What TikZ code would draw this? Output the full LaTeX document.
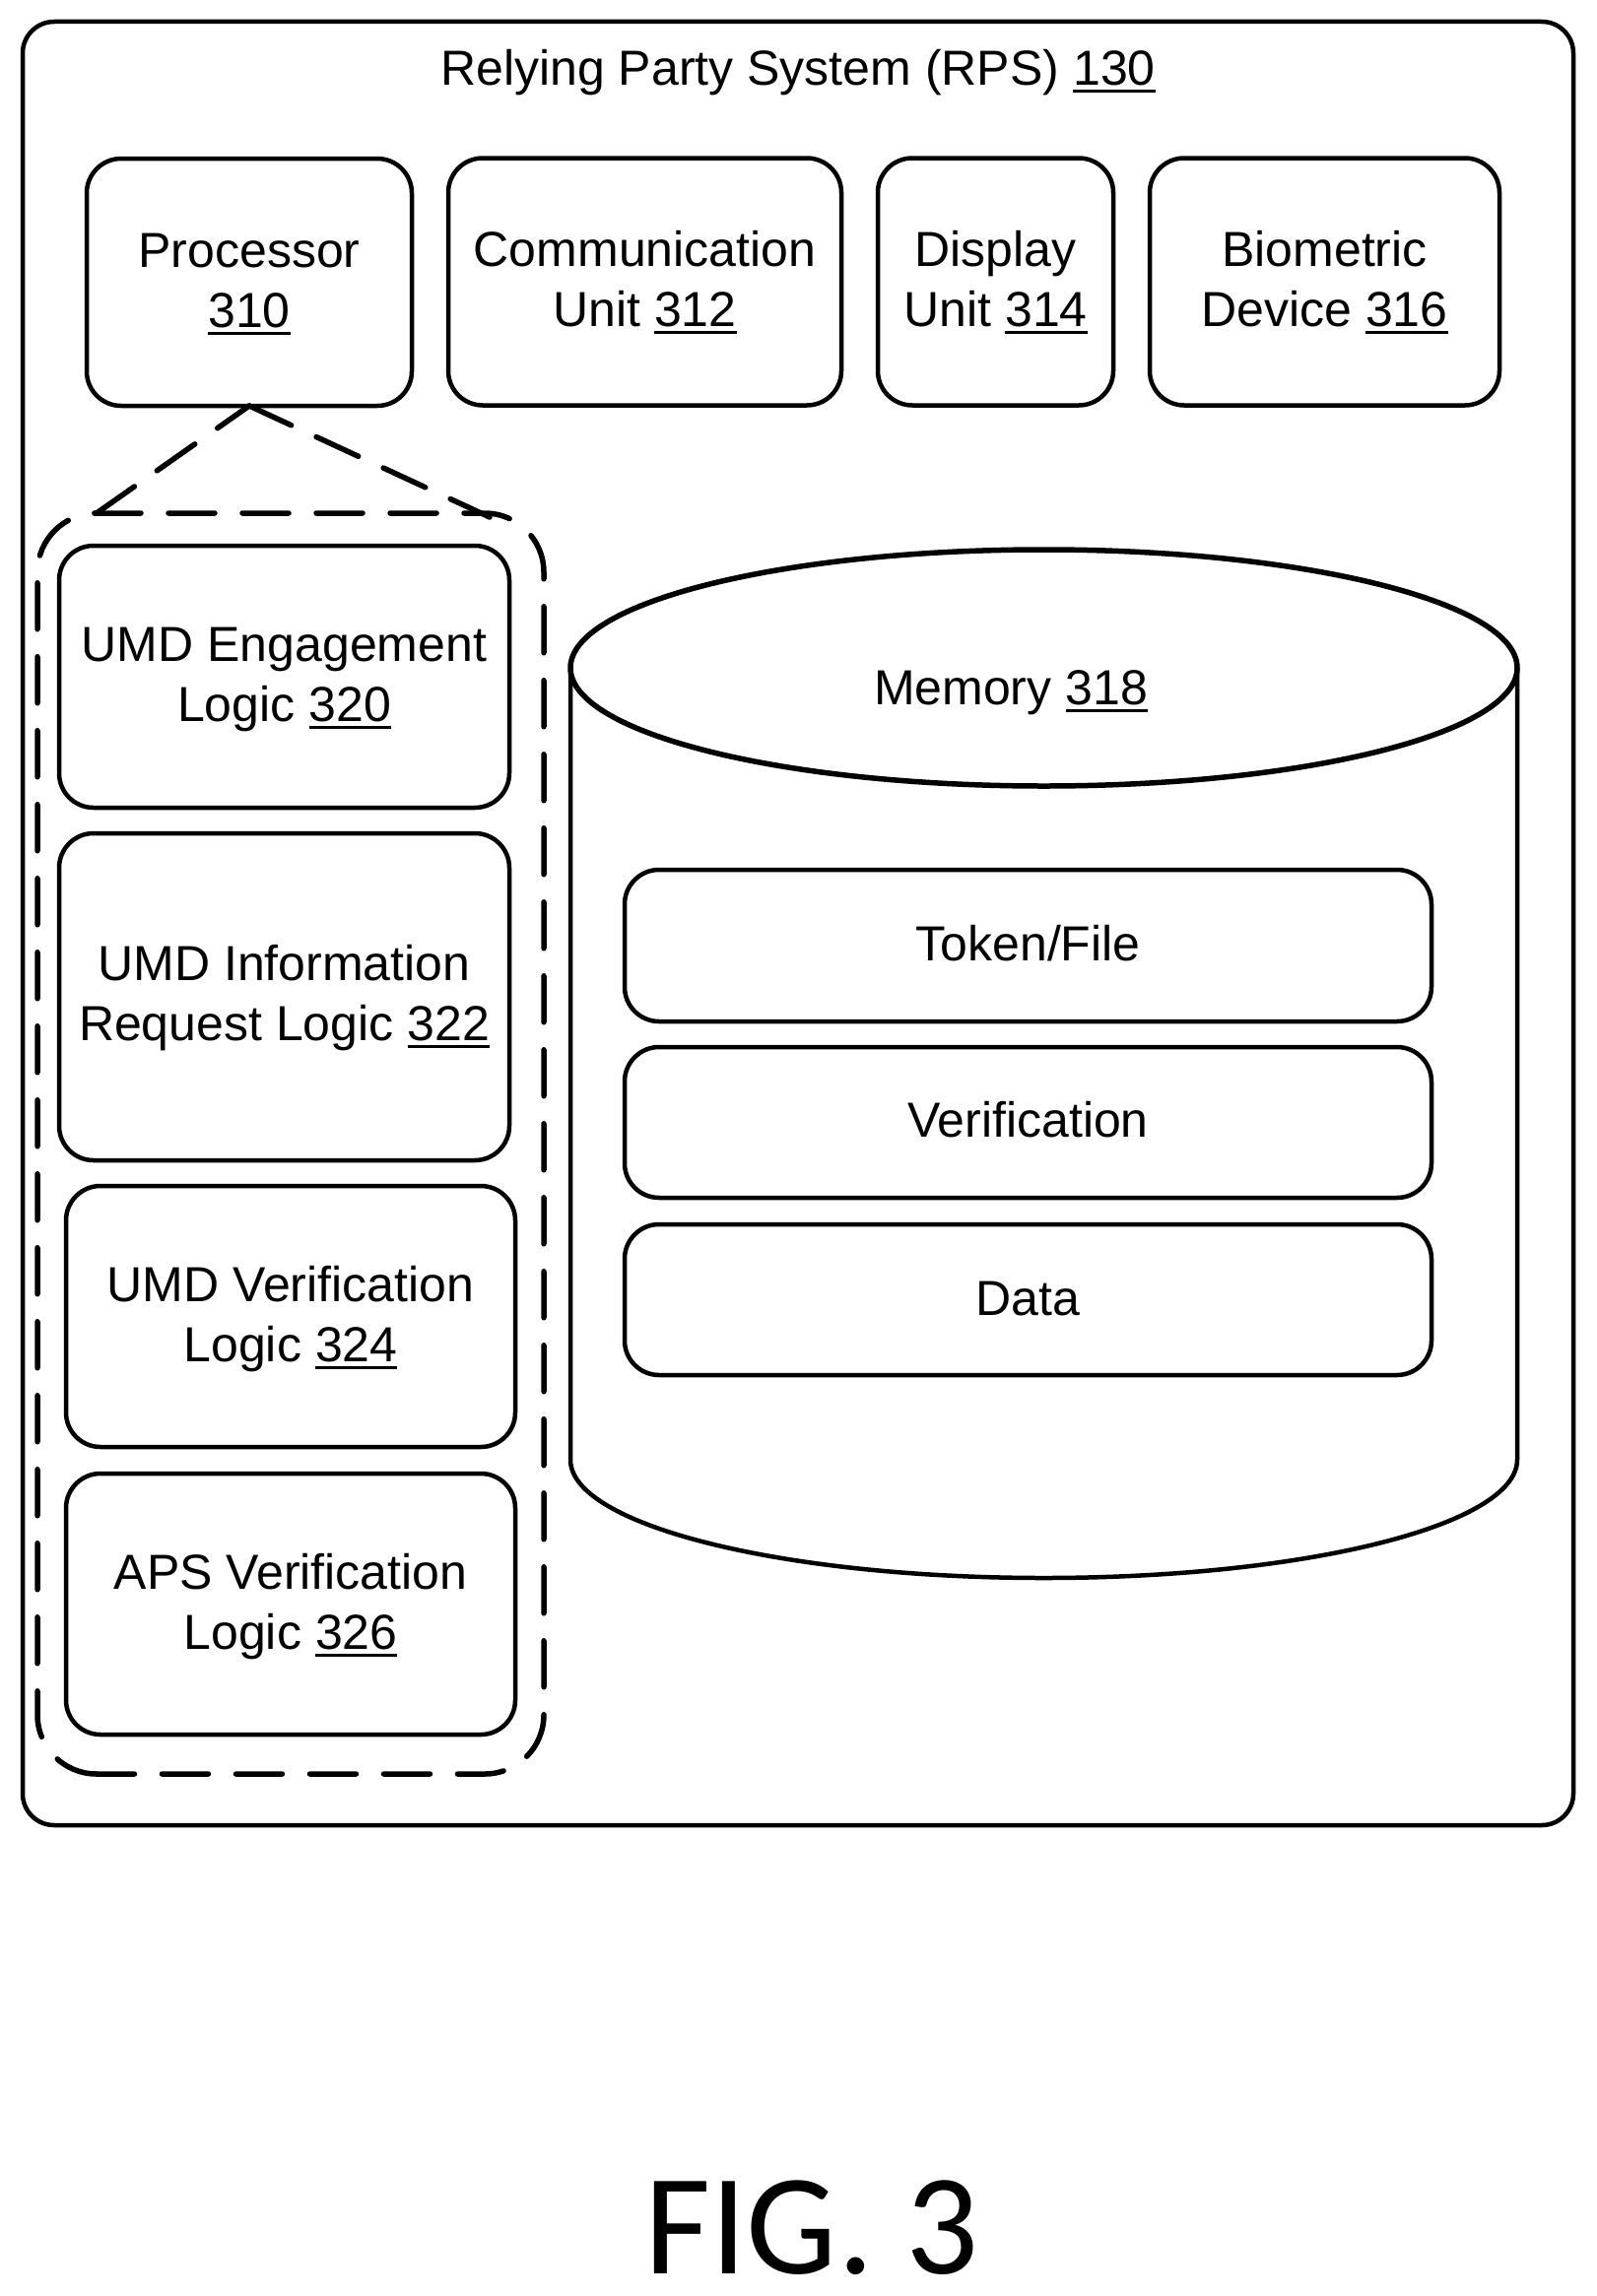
\documentclass[tikz,border=0pt]{standalone}
\usepackage{fontspec}
\setmainfont{Liberation Sans}
\newfontfamily\figfont{Carlito}
\usetikzlibrary{shapes.geometric}
\newcommand{\refnum}[1]{\setbox0=\hbox{#1}\rlap{\rule[-7.5pt]{\wd0}{3pt}}\box0 }
\newcommand{\tx}[2]{\raisebox{#1pt}[\height][\depth]{\begin{tabular}{@{}c@{}}#2\end{tabular}}}
\tikzset{
  ln/.style={line width=4.5pt,draw=black},
  lbl/.style={align=center,inner sep=0pt,outer sep=0pt,font=\fontsize{50}{61}\selectfont},
  box/.style={ln,lbl,rectangle,rounded corners=35pt},
  dashline/.style={line width=5.5pt,draw=black,line cap=round,dash pattern=on 47pt off 28pt},
}
\begin{document}
\begin{tikzpicture}[x=1pt,y=-1pt]
\useasboundingbox (0,0) rectangle (1621,2331);
% outer system
\node[box,rounded corners=32pt,minimum width=1574pt,minimum height=1831pt] (rps) at (810,937.5) {};
\node[lbl] (rpst) at (810,74) {Relying Party System (RPS) \refnum{130}};
% top row
\node[box,minimum width=330pt,minimum height=251pt] (proc) at (253,286.5) {\tx{-3}{Processor\\\refnum{310}}};
\node[box,minimum width=399pt,minimum height=251pt] (comm) at (654.5,286) {\tx{-3}{Communication\\Unit \refnum{312}}};
\node[box,minimum width=239pt,minimum height=251pt] (disp) at (1010.5,286) {\tx{-3}{Display\\Unit \refnum{314}}};
\node[box,minimum width=355pt,minimum height=251pt] (bio) at (1344.5,286) {\tx{-3}{Biometric\\Device \refnum{316}}};
% logic column
\node[box,minimum width=457pt,minimum height=266pt] (umde) at (288.5,687) {\tx{-3}{UMD Engagement\\Logic \refnum{320}}};
\node[box,minimum width=457pt,minimum height=332pt] (umdi) at (288.5,1012) {\tx{-2}{UMD Information\\Request Logic \refnum{322}}};
\node[box,minimum width=456pt,minimum height=265pt] (umdv) at (295,1336.5) {\tx{-3}{UMD Verification\\Logic \refnum{324}}};
\node[box,minimum width=456pt,minimum height=265pt] (apsv) at (295,1628.5) {\tx{-3}{APS Verification\\Logic \refnum{326}}};
% dashed enclosure
\coordinate (tl) at (98,521);
\coordinate (tr) at (497,525);
\coordinate (dstart) at (96,521);
\coordinate (dstartb) at (100,521);
\coordinate (dnw) at (38,521);
\coordinate (dne) at (552,521);
\coordinate (dse) at (552,1801);
\coordinate (dsw) at (38,1801);
\coordinate (dseam) at (98,1801);
\draw[dashline,rounded corners=60pt] (dstart) -- (dne) -- (dse) -- (dseam);
\draw[dashline,rounded corners=60pt,dash phase=43pt] (dstartb) -- (dnw) -- (dsw) -- (dseam);
\draw[dashline] (tl) -- (proc.south);
\draw[dashline] (proc.south) -- (tr);
% memory cylinder
\node[ellipse,line width=5.5pt,draw=black,inner sep=0pt,outer sep=0pt,minimum width=961pt,minimum height=240pt] (memtop) at (1059.5,678) {};
\coordinate (memsw) at (579,1482);
\draw[ln] (memtop.west) -- (memsw) arc[start angle=180,end angle=360,x radius=480.5pt,y radius=120pt] -- (memtop.east);
\node[lbl] (memt) at (1026,703) {Memory \refnum{318}};
\node[box,minimum width=819pt,minimum height=154pt] (tok) at (1043.5,960) {\tx{-3}{Token/File}};
\node[box,minimum width=819pt,minimum height=153pt] (ver) at (1043.5,1139.5) {\tx{-3}{Verification}};
\node[box,minimum width=819pt,minimum height=153pt] (dat) at (1043.5,1319.5) {\tx{-3.5}{Data}};
\node[inner sep=0pt,font=\figfont\fontsize{146}{160}\selectfont] (fig) at (824,2262) {FIG. 3};
\end{tikzpicture}
\end{document}
